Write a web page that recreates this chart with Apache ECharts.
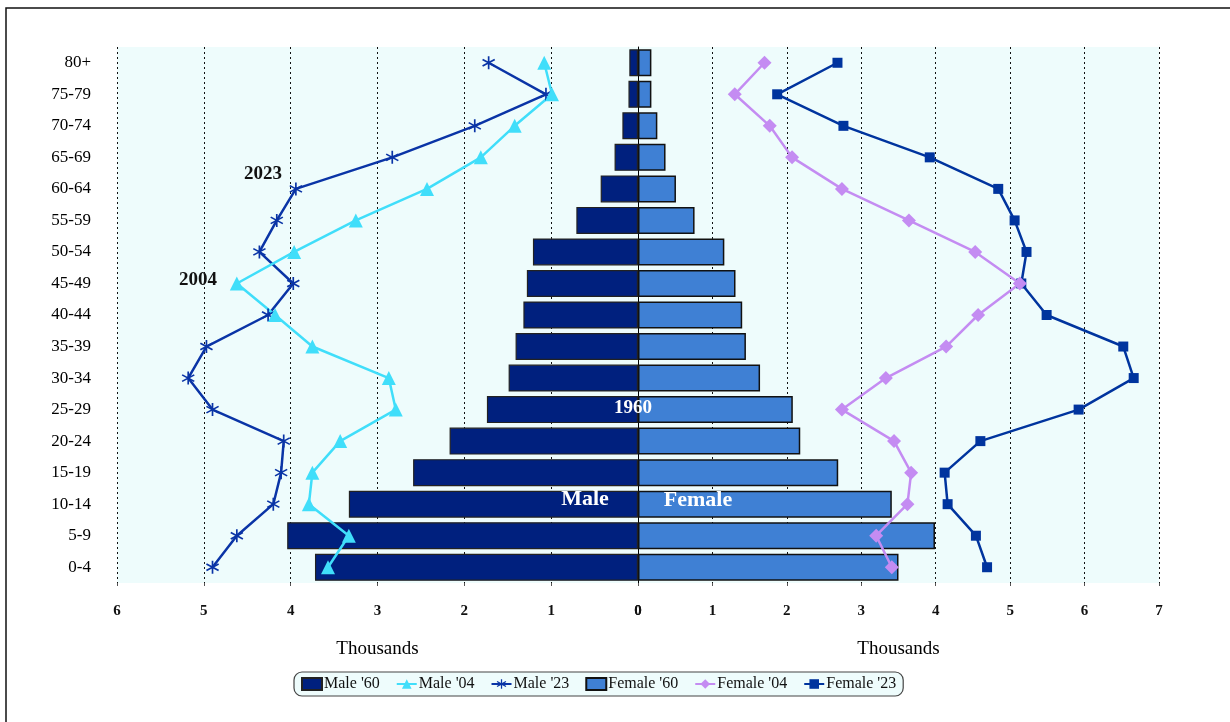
<!DOCTYPE html>
<html>
<head>
<meta charset="utf-8">
<script src="https://cdn.jsdelivr.net/npm/echarts@6/dist/echarts.min.js"></script>
<style>
html,body{margin:0;padding:0;background:#fff;}
#chart{width:1230px;height:722px;}
</style>
</head>
<body>
<div id="chart"></div>
<script>
// Age groups, bottom to top
var categories = ['0-4','5-9','10-14','15-19','20-24','25-29','30-34','35-39','40-44','45-49','50-54','55-59','60-64','65-69','70-74','75-79','80+'];
// Values in thousands
var male60   = [3.72, 4.04, 3.33, 2.59, 2.17, 1.74, 1.49, 1.41, 1.32, 1.28, 1.21, 0.71, 0.43, 0.27, 0.18, 0.11, 0.10];
var female60 = [3.50, 3.99, 3.41, 2.69, 2.18, 2.08, 1.64, 1.45, 1.40, 1.31, 1.16, 0.76, 0.51, 0.37, 0.26, 0.18, 0.18];
var male04   = [3.57, 3.33, 3.79, 3.75, 3.43, 2.79, 2.87, 3.75, 4.18, 4.62, 3.96, 3.25, 2.43, 1.81, 1.42, 0.99, 1.08];
var male23   = [4.90, 4.62, 4.20, 4.11, 4.08, 4.90, 5.18, 4.97, 4.26, 3.97, 4.36, 4.16, 3.94, 2.83, 1.88, 1.06, 1.72];
var female04 = [3.41, 3.20, 3.62, 3.67, 3.44, 2.74, 3.33, 4.14, 4.57, 5.13, 4.53, 3.64, 2.74, 2.07, 1.77, 1.30, 1.70];
var female23 = [4.69, 4.54, 4.16, 4.12, 4.60, 5.92, 6.66, 6.52, 5.49, 5.15, 5.22, 5.06, 4.84, 3.92, 2.76, 1.87, 2.68];
var maleTicks = [0, 1, 2, 3, 4, 5, 6];
var femaleTicks = [0, 1, 2, 3, 4, 5, 6, 7];
var seriesNames = ["Male '60", "Male '04", "Male '23", "Female '60", "Female '04", "Female '23"];
var axisName = 'Thousands';

var FONT = "'Liberation Serif', 'Times New Roman', serif";
var starPath = 'path://M-0.12,1L0.12,1L0.12,-1L-0.12,-1ZM0.806,0.604L0.926,0.396L-0.806,-0.604L-0.926,-0.396ZM-0.926,0.396L-0.806,0.604L0.926,-0.396L0.806,-0.604Z';

var chart = echarts.init(document.getElementById('chart'), null, {renderer: 'canvas'});

function xAxisCfg(grid, max, inverse) {
  return {
    gridIndex: grid, type: 'value', min: 0, max: max, interval: 1, inverse: inverse,
    name: axisName, nameLocation: 'middle', nameGap: 57,
    nameTextStyle: {fontFamily: FONT, fontSize: 19, color: '#000'},
    axisLine: {show: false},
    axisTick: {show: true, length: 3, lineStyle: {color: '#555'}},
    axisLabel: {fontFamily: FONT, fontSize: 15, fontWeight: 'bold', color: '#111', margin: 21},
    splitLine: {show: true, lineStyle: {color: '#111', type: [2, 3], width: 1}}
  };
}

var option = {
  animation: false,
  backgroundColor: '#ffffff',
  grid: [
    {left: 117, top: 47, width: 521, height: 536, show: true, backgroundColor: '#EEFCFC', borderWidth: 0},
    {left: 638, top: 47, width: 521, height: 536, show: true, backgroundColor: '#EEFCFC', borderWidth: 0}
  ],
  xAxis: [xAxisCfg(0, maleTicks[maleTicks.length - 1], true), xAxisCfg(1, femaleTicks[femaleTicks.length - 1], false)],
  yAxis: [
    {gridIndex: 0, type: 'category', data: categories, position: 'left',
     axisLine: {show: false}, axisTick: {show: false},
     axisLabel: {fontFamily: FONT, fontSize: 17, color: '#000', margin: 26}},
    {gridIndex: 1, type: 'category', data: categories, position: 'left',
     axisLine: {show: true, onZero: false, lineStyle: {color: '#000', width: 1}}, axisTick: {show: false},
     axisLabel: {show: false}}
  ],
  legend: {
    data: [
      {name: seriesNames[0], icon: 'rect'},
      {name: seriesNames[1]},
      {name: seriesNames[2]},
      {name: seriesNames[3], icon: 'rect'},
      {name: seriesNames[4]},
      {name: seriesNames[5]}
    ],
    left: 294, top: 672,
    padding: [4, 7],
    itemGap: 16,
    itemWidth: 20, itemHeight: 12,
    backgroundColor: '#EEFCFC',
    borderColor: '#444', borderWidth: 1.2, borderRadius: 8,
    textStyle: {fontFamily: FONT, fontSize: 16, color: '#111', padding: [0, 0, 0, -3]}
  },
  series: [
    {name: seriesNames[0], type: 'bar', xAxisIndex: 0, yAxisIndex: 0, data: male60, barWidth: 27,
     itemStyle: {color: '#00207E', borderColor: '#222', borderWidth: 1.2}},
    {name: seriesNames[3], type: 'bar', xAxisIndex: 1, yAxisIndex: 1, data: female60, barWidth: 27,
     itemStyle: {color: '#3F80D4', borderColor: '#111', borderWidth: 1.5}},
    {name: seriesNames[2], type: 'line', xAxisIndex: 0, yAxisIndex: 0, data: male23,
     symbol: starPath, symbolSize: 13, showAllSymbol: true,
     lineStyle: {color: '#0A34A6', width: 2.5}, itemStyle: {color: '#0A34A6'}},
    {name: seriesNames[5], type: 'line', xAxisIndex: 1, yAxisIndex: 1, data: female23,
     symbol: 'rect', symbolSize: 10, showAllSymbol: true,
     lineStyle: {color: '#00349E', width: 2.5}, itemStyle: {color: '#00349E'}},
    {name: seriesNames[1], type: 'line', xAxisIndex: 0, yAxisIndex: 0, data: male04,
     symbol: 'triangle', symbolSize: 14, showAllSymbol: true,
     lineStyle: {color: '#40DEFA', width: 2.5}, itemStyle: {color: '#40DEFA'}},
    {name: seriesNames[4], type: 'line', xAxisIndex: 1, yAxisIndex: 1, data: female04,
     symbol: 'diamond', symbolSize: 14, showAllSymbol: true,
     lineStyle: {color: '#C48CF2', width: 2.5}, itemStyle: {color: '#C48CF2'}}
  ],
  graphic: [
    {type: 'rect', silent: true, z: 100, shape: {x: 6, y: 8, width: 1400, height: 1000},
     style: {fill: 'none', stroke: '#111', lineWidth: 1.5}},
    {type: 'text', z: 100, x: 263, y: 174, style: {text: '2023', fontFamily: FONT, fontSize: 19, fontWeight: 'bold', fill: '#111', align: 'center', verticalAlign: 'middle'}},
    {type: 'text', z: 100, x: 198, y: 280, style: {text: '2004', fontFamily: FONT, fontSize: 19, fontWeight: 'bold', fill: '#111', align: 'center', verticalAlign: 'middle'}},
    {type: 'text', z: 100, x: 633, y: 408, style: {text: '1960', fontFamily: FONT, fontSize: 19, fontWeight: 'bold', fill: '#fff', align: 'center', verticalAlign: 'middle'}},
    {type: 'text', z: 100, x: 585, y: 499, style: {text: 'Male', fontFamily: FONT, fontSize: 22, fontWeight: 'bold', fill: '#fff', align: 'center', verticalAlign: 'middle'}},
    {type: 'text', z: 100, x: 698, y: 500, style: {text: 'Female', fontFamily: FONT, fontSize: 22, fontWeight: 'bold', fill: '#fff', align: 'center', verticalAlign: 'middle'}}
  ]
};
chart.setOption(option);
</script>
</body>
</html>
